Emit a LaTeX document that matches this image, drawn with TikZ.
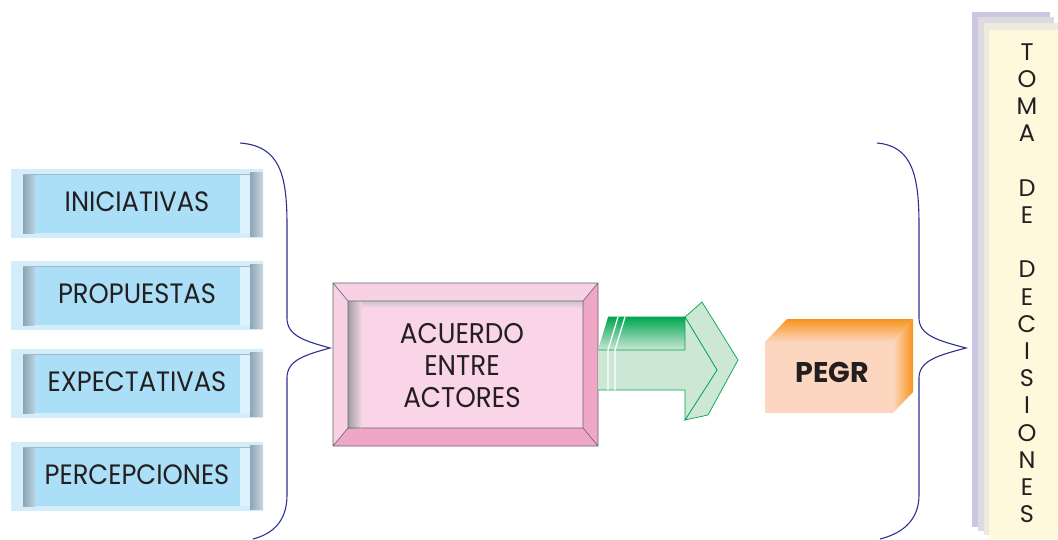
\documentclass[tikz,border=0pt]{standalone}
\usepackage{fontspec}
\setmainfont{Poppins}[FakeStretch=0.92]
\newfontfamily\plainfont{Poppins}
\definecolor{bracec}{HTML}{2E3192}
\definecolor{bluefill}{HTML}{ABDFF7}
\definecolor{bluepanel}{HTML}{D3EEFA}
\definecolor{bluedark}{HTML}{8CA5B5}
\definecolor{bluelight}{HTML}{DCF2FC}
\definecolor{pinkA}{HTML}{F8D2E4}
\definecolor{pinkB}{HTML}{F0A6C7}
\definecolor{pinkIn}{HTML}{F9D5E7}
\definecolor{greenD}{HTML}{00A651}
\definecolor{greenL}{HTML}{CDE7D5}
\definecolor{peach}{HTML}{FDD6BF}
\definecolor{orangeD}{HTML}{F7941D}
\definecolor{panelP}{HTML}{C9C7E3}
\definecolor{panelY}{HTML}{FEF9DC}
\definecolor{txt}{HTML}{231F20}
\begin{document}
\begin{tikzpicture}[x=1pt,y=-1pt,
  btext/.style={text=txt,font=\fontsize{28}{30}\selectfont,inner sep=0pt},
  atext/.style={text=txt,font=\fontsize{28.5}{32}\selectfont,align=center,inner sep=0pt},
  ptext/.style={text=txt,font=\plainfont\fontsize{24}{26}\selectfont,inner sep=0pt},
  gtext/.style={text=txt,font=\plainfont\fontsize{28.5}{30}\selectfont\bfseries,inner sep=0pt},
  bracestyle/.style={draw=bracec,line width=1.1pt},
  edge/.style={draw=gray!80!black,line width=0.6pt}]
\useasboundingbox (0,0) rectangle (1058,539);
\fill[white] (0,0) rectangle (1058,539);
% blue boxes
\foreach \y/\t/\n in {170/INICIATIVAS/b1,262/PROPUESTAS/b2,350/EXPECTATIVAS/b3,443/PERCEPCIONES/b4}{
  \fill[bluepanel] (11,\y-1) rectangle (263,\y+68);
  \shade[left color=bluedark,right color=bluedark!40!bluelight] (23,\y+4) rectangle (35,\y+63);
  \fill[bluefill] (35,\y+4) rectangle (240,\y+63);
  \fill[bluelight] (240,\y+4) rectangle (250,\y+63);
  \shade[left color=bluedark,right color=bluedark!45!white] (250,\y+2) rectangle (263,\y+66);
  \draw[bluedark!80,line width=0.8pt] (23,\y+4) -- (250,\y+4);
  \node[btext] (\n) at (137,\y+32) {\t};
}
% left brace
\draw[bracestyle] (240,143) .. controls (280,146) and (287,175) .. (287,225) -- (287,318)
  .. controls (287,336) and (305,341) .. (330,348)
  .. controls (305,355) and (287,360) .. (287,378) -- (287,495)
  .. controls (287,522) and (272,534) .. (253,539);
% pink box
\fill[pinkA] (333,283) rectangle (598,446);
\fill[pinkB] (598,283) -- (583,301) -- (583,428) -- (348,428) -- (333,446) -- (598,446) -- cycle;
\fill[pinkIn] (348,301) rectangle (583,428);
\shade[left color=gray!75,right color=pinkIn] (348,301) rectangle (362,428);
\shade[top color=gray!45,bottom color=pinkIn] (362,301) rectangle (583,308);
\draw[edge] (333,283) rectangle (598,446) (348,301) rectangle (583,428)
  (333,283) -- (348,301) (598,283) -- (583,301) (333,446) -- (348,428) (598,446) -- (583,428);
\node[atext] (acuerdo) at (462,366) {ACUERDO\\ENTRE\\ACTORES};
% green arrow
\filldraw[fill=greenL,draw=greenD,line width=0.7pt] (685,317) -- (702,302) -- (738,360) -- (708,415) -- (685,420) -- (717,370) -- cycle;
\shade[top color=greenD,bottom color=greenL] (608,317) -- (685,317) -- (685,350) -- (598,350) -- cycle;
\fill[greenL] (598,350) rectangle (685,390);
\fill[greenL] (685,317) -- (717,370) -- (685,420) -- cycle;
\draw[greenD,line width=0.7pt] (608,317) -- (685,317) (598,350) -- (685,350) (598,390) -- (685,390)
  (685,350) -- (685,317) -- (717,370) -- (685,420) -- (685,390);
\draw[white,line width=1.3pt] (618,317) -- (608,350) -- (608,390) (625,317) -- (615,350) -- (615,390);
\coordinate (arrowtip) at (738,360);
% PEGR block
\fill[peach] (765,342) rectangle (893,413);
\shade[top color=orangeD,bottom color=peach] (765,342) -- (787,319) -- (913,319) -- (893,342) -- cycle;
\shade[left color=peach,right color=orangeD] (893,342) -- (913,319) -- (913,392) -- (893,413) -- cycle;
\node[gtext] (pegr) at (832,372) {PEGR};
% right brace
\draw[bracestyle] (877,143) .. controls (912,146) and (919,175) .. (919,225) -- (919,318)
  .. controls (919,336) and (940,341) .. (966,348)
  .. controls (940,355) and (919,360) .. (919,378) -- (919,495)
  .. controls (919,522) and (900,534) .. (880,539);
% right panel
\fill[panelP] (972,12) rectangle (1050,527);
\fill[panelP!60!panelY] (978,17) rectangle (1054,531);
\fill[panelP!30!panelY] (984,23) rectangle (1058,535);
\fill[panelY] (989,30) rectangle (1058,539);
\foreach \c [count=\i] in {T,O,M,A,{},D,E,{},D,E,C,I,S,I,O,N,E,S}
  \node[ptext] (L\i) at (1027,{52+(\i-1)*27.2}) {\c};
\end{tikzpicture}
\end{document}
